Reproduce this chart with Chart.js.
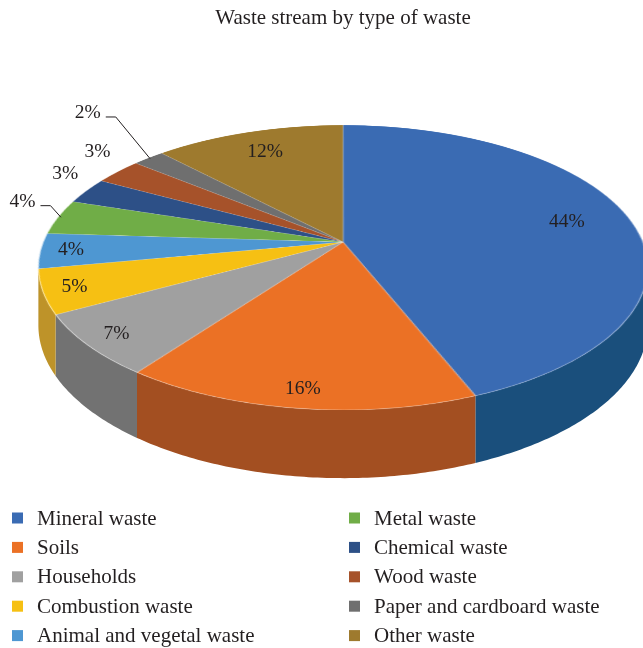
<!DOCTYPE html>
<html>
<head>
<meta charset="utf-8">
<script src="https://cdn.jsdelivr.net/npm/chart.js@4.4.0/dist/chart.umd.min.js"></script>
<style>
  html, body { margin: 0; padding: 0; background: #ffffff; }
  canvas { display: block; }
</style>
</head>
<body>
<canvas id="chart" width="643" height="648"></canvas>
<script>
// Waste stream shares (%)
const categories = [
  'Mineral waste', 'Soils', 'Households', 'Combustion waste', 'Animal and vegetal waste',
  'Metal waste', 'Chemical waste', 'Wood waste', 'Paper and cardboard waste', 'Other waste'
];
const shares = [44, 16, 7, 5, 4, 4, 3, 3, 2, 12];

// Slice colours: top face and darker outer wall
const faceColors = ['#3A6BB3', '#EB7125', '#A0A0A0', '#F6C013', '#4E97D2',
                    '#70AD47', '#2D5087', '#A6522A', '#6F6F6F', '#9E7A2E'];
const sideColors = ['#1A4F7C', '#A34F21', '#727272', '#BE9329', '#3A74A6',
                    '#4F7F33', '#1F3A62', '#7A3A1D', '#505050', '#74591F'];

// Data label placement: radius fraction along each slice's mid angle, leader line flag
const labelRadius = [0.78, 0.9, 0.9, 0.9, 0.9, 1.17, 1.15, 1.19, 1.52, 0.8];
const labelLeader = [false, false, false, false, false, true, false, false, true, false];
// labels outside the disc are turned slightly clockwise (degrees)
const OUTSIDE_TURN = 4.5;

// Tilted view of the pie: apex height, vertical squash, perspective strength, wall depth
const VIEW = { apexY: 242, tiltY: 0.46, persp: -0.179, depth: 56 };

const FONT = "'Liberation Serif', 'Times New Roman', serif";
const TEXT = '#231f20';

function project(cx, R, theta, f) {
  const u = Math.cos(theta) * f, v = Math.sin(theta) * f;
  const w = 1 + VIEW.persp * v;
  return { x: cx + R * u / w, y: VIEW.apexY + VIEW.tiltY * R * v / w, w: w };
}

// Re-projects the flat pie drawn by Chart.js into a tilted disc with an outer wall
const tiltedPie = {
  id: 'tiltedPie',
  afterDatasetsDraw(chart) {
    const ctx = chart.ctx;
    const arcs = chart.getDatasetMeta(0).data;
    const cx = arcs[0].x, cy = arcs[0].y, R = arcs[0].outerRadius;
    const pad = 2, size = Math.ceil(2 * R + 2 * pad);

    const off = document.createElement('canvas');
    off.width = size; off.height = size;
    off.getContext('2d').drawImage(chart.canvas, cx - R - pad, cy - R - pad, size, size, 0, 0, size, size);

    const a = chart.chartArea;
    ctx.clearRect(a.left, a.top, a.right - a.left, a.bottom - a.top);

    const c = VIEW.persp;
    const tMin = Math.asin(-c), tMax = Math.PI - tMin;

    // outer walls of the front half
    arcs.forEach((arc, i) => {
      const s = Math.max(arc.startAngle, tMin), e = Math.min(arc.endAngle, tMax);
      if (e <= s) return;
      const n = Math.max(2, Math.ceil((e - s) * 80));
      ctx.beginPath();
      for (let k = 0; k <= n; k++) {
        const p = project(cx, R, s + (e - s) * k / n, 1);
        if (k === 0) ctx.moveTo(p.x, p.y); else ctx.lineTo(p.x, p.y);
      }
      for (let k = n; k >= 0; k--) {
        const p = project(cx, R, s + (e - s) * k / n, 1);
        ctx.lineTo(p.x, p.y + VIEW.depth / p.w);
      }
      ctx.closePath();
      ctx.fillStyle = sideColors[i];
      ctx.fill();
    });

    // top face, row by row
    const B = VIEW.tiltY * R;
    const yTop = VIEW.apexY - B / (1 - c), yBot = VIEW.apexY + B / (1 + c);
    const vAt = y => {
      const t = (y - VIEW.apexY) / B;
      return Math.max(-1, Math.min(1, t / (1 - c * t)));
    };
    for (let y = Math.floor(yTop); y < Math.ceil(yBot); y++) {
      const v0 = vAt(y), v1 = vAt(y + 1);
      const sy0 = pad + R * (1 + v0), sy1 = pad + R * (1 + v1);
      if (sy1 - sy0 <= 0.001) continue;
      const k = 1 / (1 + c * (v0 + v1) / 2);
      ctx.drawImage(off, 0, sy0, size, sy1 - sy0, cx - k * (R + pad), y, size * k, 1);
    }
  },
  afterDraw(chart) {
    const ctx = chart.ctx;
    const arcs = chart.getDatasetMeta(0).data;
    const cx = arcs[0].x, R = arcs[0].outerRadius;
    ctx.save();

    // percentage labels
    ctx.font = '19.5px ' + FONT;
    ctx.fillStyle = TEXT;
    ctx.strokeStyle = TEXT;
    ctx.lineWidth = 1;
    ctx.textAlign = 'center';
    ctx.textBaseline = 'middle';
    arcs.forEach((arc, i) => {
      const mid = (arc.startAngle + arc.endAngle) / 2;
      const f = labelRadius[i];
      const ang = f > 1 ? mid + OUTSIDE_TURN * Math.PI / 180 : mid;
      const p = project(cx, R, ang, f);
      const txt = shares[i] + '%';
      ctx.fillText(txt, p.x, p.y);
      if (labelLeader[i]) {
        const edge = project(cx, R, mid, 0.99);
        const x0 = p.x + ctx.measureText(txt).width / 2 + 5, y0 = p.y + 4;
        ctx.beginPath();
        ctx.moveTo(x0, y0);
        ctx.lineTo(x0 + 10, y0);
        ctx.lineTo(edge.x, edge.y);
        ctx.stroke();
      }
    });

    // legend in two columns
    const lg = { cols: [12, 349], top: 518, step: 29.4, box: 11, gap: 25 };
    ctx.font = '21px ' + FONT;
    ctx.textAlign = 'left';
    const perCol = Math.ceil(categories.length / 2);
    categories.forEach((name, i) => {
      const x = lg.cols[Math.floor(i / perCol)];
      const y = lg.top + (i % perCol) * lg.step;
      ctx.fillStyle = faceColors[i];
      ctx.fillRect(x, y - lg.box / 2, lg.box, lg.box);
      ctx.fillStyle = TEXT;
      ctx.fillText(name, x + lg.gap, y + 1);
    });
    ctx.restore();
  }
};

new Chart(document.getElementById('chart'), {
  type: 'pie',
  data: {
    labels: categories,
    datasets: [{
      data: shares,
      backgroundColor: faceColors,
      borderWidth: 0.6,
      borderColor: 'rgba(255,255,255,0.55)'
    }]
  },
  options: {
    responsive: false,
    devicePixelRatio: 1,
    animation: false,
    events: [],
    layout: { padding: { left: 43, right: 0, top: 0, bottom: 0 } },
    plugins: {
      legend: { display: false },
      tooltip: { enabled: false },
      title: {
        display: true,
        text: 'Waste stream by type of waste',
        color: TEXT,
        font: { family: FONT, size: 21, weight: 'normal' },
        padding: { top: 6, bottom: 8 }
      }
    }
  },
  plugins: [tiltedPie]
});
</script>
</body>
</html>
